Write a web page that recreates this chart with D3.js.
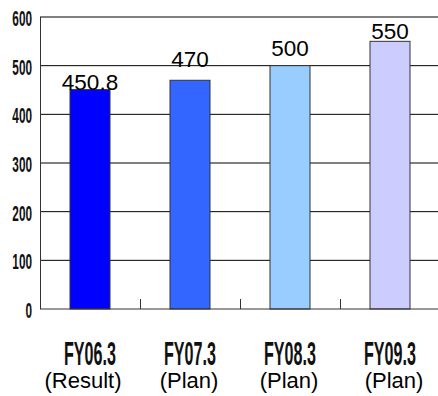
<!DOCTYPE html>
<html>
<head>
<meta charset="utf-8">
<script src="https://cdn.jsdelivr.net/npm/d3@7/dist/d3.min.js"></script>
<style>
  html, body { margin: 0; padding: 0; background: #fff; }
  svg { display: block; }
</style>
</head>
<body>
<svg id="chart" width="438" height="396"></svg>
<script>
// Fiscal years, their status line, and the values shown on each bar
const years = ["FY06.3", "FY07.3", "FY08.3", "FY09.3"];
const statuses = ["(Result)", "(Plan)", "(Plan)", "(Plan)"];
const values = [450.8, 470, 500, 550];
const valueLabels = ["450.8", "470", "500", "550"];
const barColors = ["#0000FF", "#3366FF", "#99CCFF", "#CCCCFF"];
const yTicks = [0, 100, 200, 300, 400, 500, 600];
// gap between each value label's baseline and its bar top
const labelLift = [0, 13, 10, 2];
// horizontal shift of the status line under each year
const statusShift = [-7, -1, -1, 4];

const svg = d3.select("#chart");
const plot = { left: 40, right: 440, top: 17, bottom: 309 };
const font = "'Liberation Sans', Arial, sans-serif";

const x = d3.scaleBand()
  .domain(years)
  .range([plot.left, plot.right])
  .paddingInner(0.6)
  .paddingOuter(0.3);

const y = d3.scaleLinear()
  .domain([0, 600])
  .range([plot.bottom, plot.top]);

// horizontal gridlines
svg.append("g")
  .selectAll("line")
  .data(yTicks.filter(d => d > 0))
  .join("line")
  .attr("x1", plot.left)
  .attr("x2", plot.right)
  .attr("y1", d => y(d))
  .attr("y2", d => y(d))
  .attr("stroke", "#000")
  .attr("stroke-width", 1);

// bars
svg.append("g")
  .selectAll("rect")
  .data(values)
  .join("rect")
  .attr("x", (d, i) => x(years[i]))
  .attr("y", d => y(d))
  .attr("width", x.bandwidth())
  .attr("height", d => y(0) - y(d))
  .attr("fill", (d, i) => barColors[i])
  .attr("stroke", "#333")
  .attr("stroke-width", 1);

// value axis line
svg.append("line")
  .attr("x1", plot.left + 0.5).attr("x2", plot.left + 0.5)
  .attr("y1", plot.top).attr("y2", plot.bottom)
  .attr("stroke", "#333");

// category axis with short upward ticks between the bars
const step = x.step();
const boundaries = d3.range(years.length).map(i => plot.left + i * step);
const xAxis = svg.append("g");
xAxis.append("line")
  .attr("x1", plot.left).attr("x2", plot.right)
  .attr("y1", plot.bottom).attr("y2", plot.bottom)
  .attr("stroke", "#333");
xAxis.selectAll("line.tick")
  .data(boundaries)
  .join("line")
  .attr("class", "tick")
  .attr("x1", d => Math.round(d) + 0.5)
  .attr("x2", d => Math.round(d) + 0.5)
  .attr("y1", plot.bottom)
  .attr("y2", plot.bottom - 10)
  .attr("stroke", "#333");

// y tick labels, tall and condensed
svg.append("g")
  .selectAll("text")
  .data(yTicks)
  .join("text")
  .attr("transform", d => `translate(32,${y(d) + 9}) scale(0.62,1.2)`)
  .attr("text-anchor", "end")
  .attr("font-family", font)
  .attr("font-weight", "bold")
  .attr("font-size", 19)
  .attr("fill", "#111")
  .text(d => d);

// value labels above the bars
svg.append("g")
  .selectAll("text")
  .data(values)
  .join("text")
  .attr("x", (d, i) => x(years[i]) + x.bandwidth() / 2)
  .attr("y", (d, i) => y(d) - labelLift[i])
  .attr("text-anchor", "middle")
  .attr("font-family", font)
  .attr("font-size", 22.5)
  .attr("fill", "#000")
  .text((d, i) => valueLabels[i]);

// category labels: condensed year plus status line
const cat = svg.append("g")
  .selectAll("g")
  .data(years)
  .join("g");
cat.append("text")
  .attr("transform", d => `translate(${x(d) + x.bandwidth() / 2},365) scale(0.62,1.25)`)
  .attr("text-anchor", "middle")
  .attr("font-family", font)
  .attr("font-weight", "bold")
  .attr("font-size", 26)
  .attr("fill", "#111")
  .text(d => d);
cat.append("text")
  .attr("x", (d, i) => x(d) + x.bandwidth() / 2 + statusShift[i])
  .attr("y", 388)
  .attr("text-anchor", "middle")
  .attr("font-family", font)
  .attr("font-size", 22)
  .attr("fill", "#000")
  .text((d, i) => statuses[i]);
</script>
</body>
</html>
